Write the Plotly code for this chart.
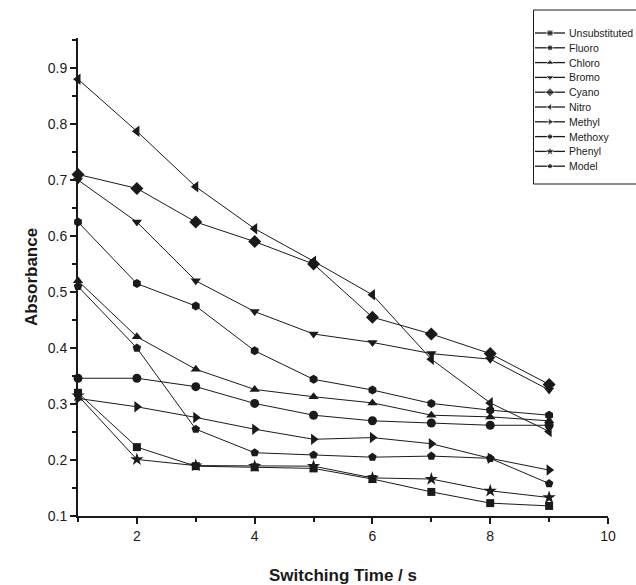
import plotly.graph_objects as go

time_s = [1, 2, 3, 4, 5, 6, 7, 8, 9]

series_names = ["Unsubstituted", "Fluoro", "Chloro", "Bromo", "Cyano",
                "Nitro", "Methyl", "Methoxy", "Phenyl", "Model"]

unsubstituted = [0.32, 0.223, 0.189, 0.187, 0.185, 0.166, 0.143, 0.123, 0.118]
fluoro = [0.346, 0.346, 0.331, 0.301, 0.28, 0.27, 0.266, 0.262, 0.262]
chloro = [0.52, 0.42, 0.362, 0.326, 0.313, 0.302, 0.28, 0.277, 0.27]
bromo = [0.70, 0.625, 0.52, 0.465, 0.425, 0.41, 0.39, 0.38, 0.325]
cyano = [0.71, 0.685, 0.625, 0.59, 0.55, 0.455, 0.425, 0.39, 0.335]
nitro = [0.88, 0.787, 0.688, 0.613, 0.555, 0.495, 0.38, 0.302, 0.251]
methyl = [0.31, 0.295, 0.276, 0.255, 0.237, 0.24, 0.229, 0.203, 0.182]
methoxy = [0.625, 0.515, 0.475, 0.395, 0.344, 0.325, 0.301, 0.289, 0.28]
phenyl = [0.315, 0.201, 0.19, 0.189, 0.189, 0.168, 0.166, 0.145, 0.133]
model = [0.51, 0.40, 0.255, 0.213, 0.209, 0.205, 0.207, 0.203, 0.158]

values = [unsubstituted, fluoro, chloro, bromo, cyano, nitro, methyl, methoxy, phenyl, model]
symbols = ["square", "circle", "triangle-up", "triangle-down", "diamond",
           "triangle-left", "triangle-right", "hexagon", "star", "pentagon"]
sizes = [8, 9, 9, 9, 10, 10, 10, 9, 10, 9]
legend_sizes = [6, 6, 7, 7, 7, 7, 7, 6, 8, 6]

ink = "#1a1a1a"
W, H = 636, 585
ML, MB, MT = 78, 69, 0
PW, PH = W - ML, H - MB - MT          # paper size (558 x 516)
plot_right_px, plot_top_px = 608, 38  # main plot box edges in pixels

fig = go.Figure()
for name, vals, sym, sz in zip(series_names, values, symbols, sizes):
    fig.add_trace(go.Scatter(
        x=time_s, y=vals, name=name, mode="lines+markers",
        line=dict(color=ink, width=1),
        marker=dict(symbol=sym, size=sz, color=ink),
        cliponaxis=False, showlegend=False,
    ))

# ---- custom legend (Origin-style compact box), in a pixel-unit helper axis ----
leg_x0, leg_x1, leg_y0, leg_y1 = 533, 636, 10, 184
row0, row_gap = 33, 14.8
for i, (name, sym, lsz) in enumerate(zip(series_names, symbols, legend_sizes)):
    yy = row0 + i * row_gap
    fig.add_trace(go.Scatter(
        x=[535, 550, 565], y=[yy, yy, yy], mode="lines+markers",
        line=dict(color=ink, width=1.3),
        marker=dict(symbol=sym, size=[0, lsz, 0], color=ink),
        xaxis="x2", yaxis="y2", showlegend=False, hoverinfo="skip",
    ))
    fig.add_annotation(
        x=567, y=yy, xref="x2", yref="y2", text=name, showarrow=False,
        xanchor="left", yanchor="middle",
        font=dict(size=10.5, family="Liberation Sans, Arial", color=ink),
    )

fig.add_shape(
    type="rect", xref="paper", yref="paper",
    x0=(leg_x0 + 0.5 - ML) / PW, x1=(leg_x1 + 5 - ML) / PW,
    y0=(PH - leg_y1) / PH, y1=(PH - leg_y0) / PH,
    line=dict(color=ink, width=1), layer="below",
)

fig.update_layout(
    width=W, height=H,
    margin=dict(l=ML, r=0, t=MT, b=MB, autoexpand=False),
    paper_bgcolor="white", plot_bgcolor="rgba(0,0,0,0)",
    font=dict(family="Liberation Sans, Arial, sans-serif", color=ink, size=14),
    showlegend=False,
    xaxis=dict(
        domain=[0, (plot_right_px - ML) / PW],
        range=[1, 10], tick0=0, dtick=2, ticks="outside", ticklen=6, tickwidth=2,
        tickcolor=ink, showline=True, linecolor=ink, linewidth=2, showgrid=False,
        zeroline=False, tickfont=dict(size=14),
        minor=dict(ticks="outside", dtick=1, tick0=1, ticklen=4, tickwidth=2, tickcolor=ink),
        title=dict(text="<b>Switching Time / s</b>", font=dict(size=17), standoff=28),
    ),
    yaxis=dict(
        domain=[0, (PH - plot_top_px) / PH],
        range=[0.1, 0.9536], tick0=0.1, dtick=0.1, ticks="outside", ticklen=6, tickwidth=2,
        tickcolor=ink, showline=True, linecolor=ink, linewidth=2, showgrid=False,
        zeroline=False, tickfont=dict(size=14), tickformat=".1f",
        minor=dict(ticks="outside", dtick=0.05, ticklen=4, tickwidth=2, tickcolor=ink),
        title=dict(text="<b>Absorbance</b>", font=dict(size=17), standoff=6),
    ),
    xaxis2=dict(
        domain=[(leg_x0 - ML) / PW, 1], range=[leg_x0, leg_x1], visible=False,
        anchor="y2", fixedrange=True,
    ),
    yaxis2=dict(
        domain=[(PH - leg_y1) / PH, (PH - leg_y0) / PH], range=[leg_y1, leg_y0],
        visible=False, anchor="x2", fixedrange=True,
    ),
)

fig.write_html("out.html")
